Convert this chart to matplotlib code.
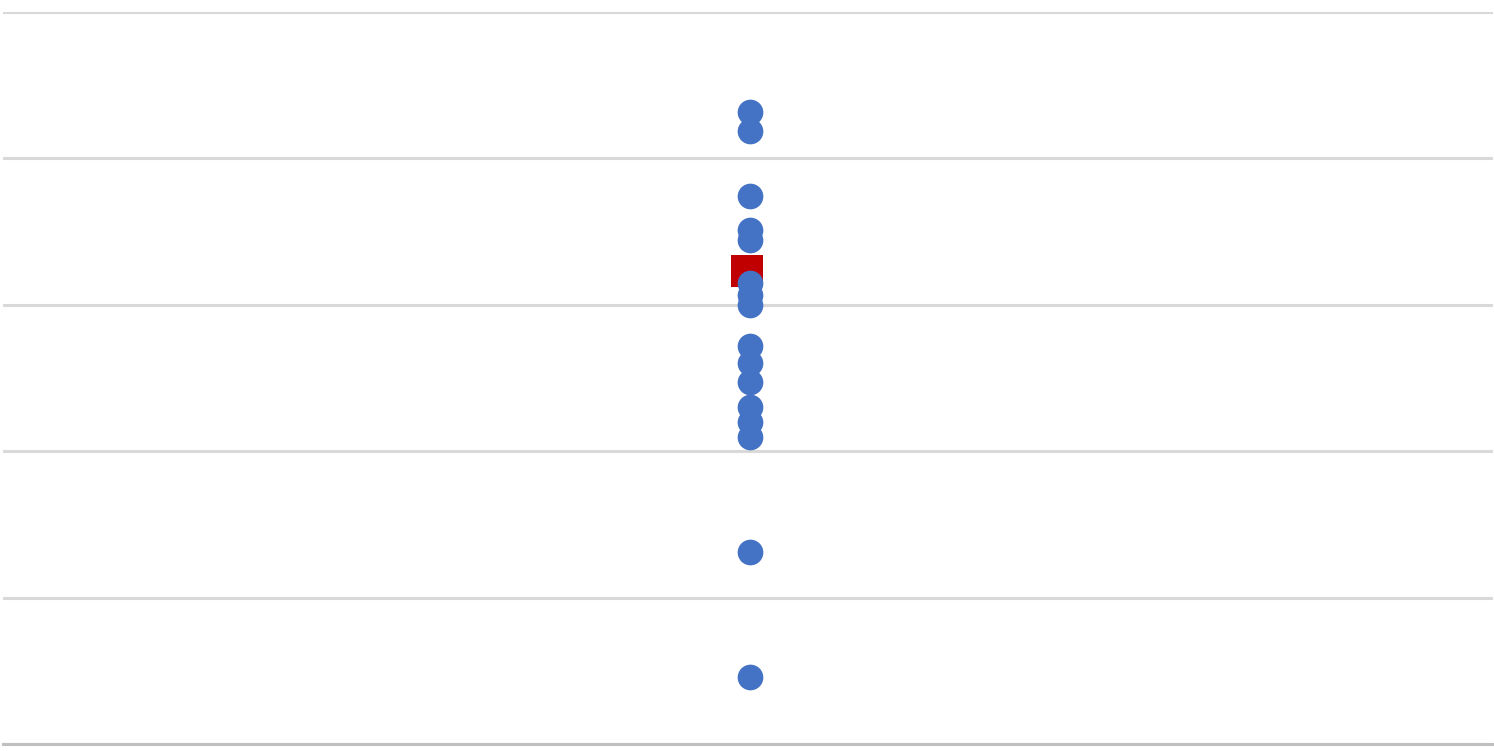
import matplotlib
matplotlib.use("Agg")
import matplotlib.pyplot as plt

# values (axis 0..5, no labels shown)
blue_x = [1.003] * 16
blue_y = [4.32, 4.19, 3.74, 3.51, 3.44, 3.15, 3.07, 3.00,
          2.72, 2.60, 2.47, 2.30, 2.20, 2.10, 1.31, 0.46]
red_x = [0.998]
red_y = [3.23]
y_ticks = [0, 1, 2, 3, 4, 5]

W, H = 1494, 751
fig = plt.figure(figsize=(W / 100, H / 100), dpi=100)
ax = fig.add_axes([3 / W, (H - 744) / H, 1490 / W, 732 / H])

ax.set_xlim(0, 2)
ax.set_ylim(0, 5)
ax.set_yticks(y_ticks)
ax.set_xticks([])
ax.tick_params(axis="y", length=0, labelleft=False)
ax.grid(axis="y", color="#d9d9d9", linewidth=2.2)
ax.set_axisbelow(True)
for side in ("top", "left", "right"):
    ax.spines[side].set_visible(False)
ax.spines["bottom"].set_color("#bfbfbf")
ax.spines["bottom"].set_linewidth(2.2)

ax.plot(red_x, red_y, linestyle="none", marker="s", markersize=23,
        color="#c00000", markeredgewidth=0, clip_on=False, zorder=3)
ax.plot(blue_x, blue_y, linestyle="none", marker="o", markersize=18.5,
        color="#4472c4", markeredgewidth=0, clip_on=False, zorder=4)

fig.savefig("out.png", dpi=100)
